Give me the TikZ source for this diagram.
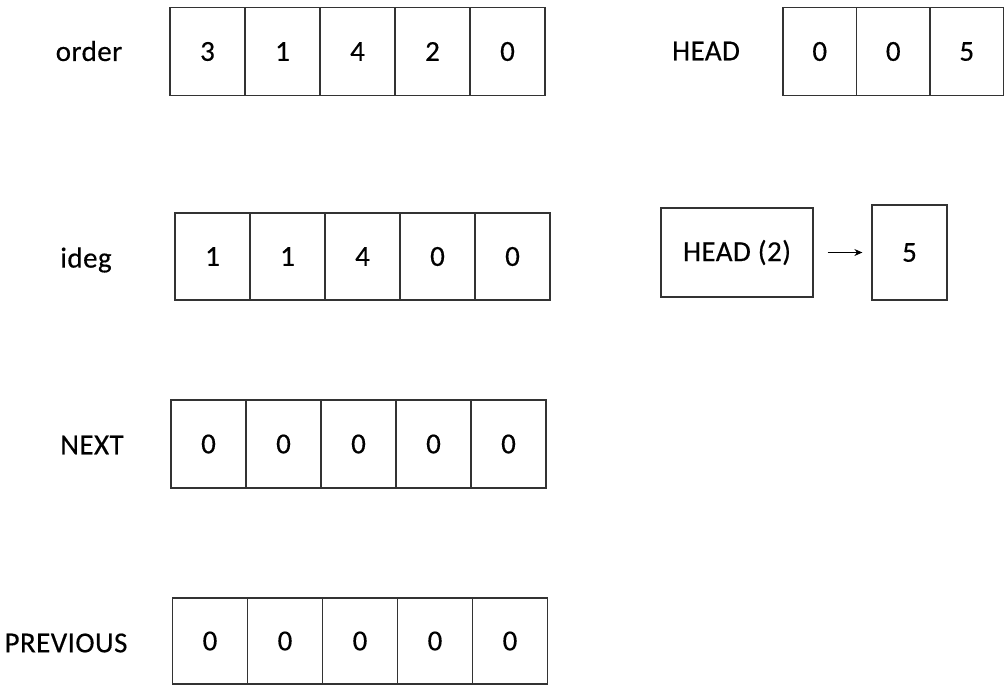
\documentclass[tikz,border=0pt]{standalone}
\usepackage{fontspec}
\setmainfont{Carlito}[LetterSpace=1.5, FakeBold=0.4]
\usetikzlibrary{arrows.meta}

\begin{document}
\begin{tikzpicture}[
      x=1pt, y=-1pt,
      font=\fontsize{29pt}{34pt}\selectfont,
      cell/.style={draw=black!80, line width=1.3pt, inner sep=0pt,
        minimum width=75pt, minimum height=88pt},
      link/.style={-{Stealth[length=8pt,width=7pt]}, line width=1.2pt}
    ]
    \useasboundingbox (0,0) rectangle (1008,687);
    % labels
    \node (lorder) at (89,51) {order};
    \node (lideg) at (86,260) {ideg};
    \node (lnext) at (92,445) {NEXT};
    \node (lprev) at (66,643) {PREVIOUS};
    \node (lhead) at (706,51) {HEAD};
    % arrays
    \foreach \v [count=\i] in {3,1,4,2,0}
      \node (o\i) [cell] at (132.5+75*\i,51.5) {\v};
    \foreach \v [count=\i] in {1,1,4,0,0}
      \node (i\i) [cell, minimum height=87pt] at (137.5+75*\i,256.5) {\v};
    \foreach \v [count=\i] in {0,0,0,0,0}
      \node (n\i) [cell] at (133.5+75*\i,444) {\v};
    \foreach \v [count=\i] in {0,0,0,0,0}
      \node (p\i) [cell, minimum height=86pt] at (135+75*\i,641) {\v};
    \foreach \v [count=\i] in {0,0,5}
      \node (h\i) [cell, minimum width=73.5pt] at (746.25+73.5*\i,51.5) {\v};
    % list under HEAD(2)
    \node (hd) [cell, minimum width=152pt, minimum height=89pt] at (737,252.5) {HEAD (2)};
    \node (hd5) [cell, minimum height=95pt] at (909.5,252.5) {5};
    \draw[link, shorten <=14pt, shorten >=9pt] (hd) -- (hd5);
\end{tikzpicture}
\end{document}
